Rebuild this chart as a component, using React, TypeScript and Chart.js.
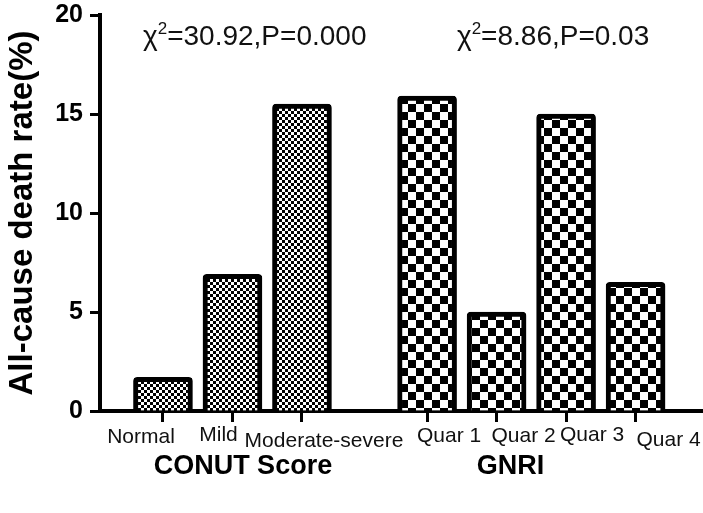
import React, { useEffect, useRef } from "react";
import { Chart, registerables } from "chart.js";

Chart.register(...registerables);

// ---- data ----
const categories = ["Normal", "Mild", "Moderate-severe", "Quar 1", "Quar 2", "Quar 3", "Quar 4"];
const positions = [1, 2, 3, 4.8, 5.8, 6.8, 7.8];
const values = [1.7, 6.9, 15.5, 15.9, 5.0, 15.0, 6.5];
const groups = ["CONUT", "CONUT", "CONUT", "GNRI", "GNRI", "GNRI", "GNRI"];
const groupTitles = ["CONUT Score", "GNRI"];
const groupCenters = [2.15, 6.0];
const chiTexts = ["=30.92,P=0.000", "=8.86,P=0.03"];
const chiStarts = [0.713, 5.23];
const yTickStep = 5;
const yMax = 20;

// label fine-tuning (pixels)
const labelDx = [-22, -14, 22, 22, 27, 26, 33];
const labelDy = [26, 24, 30, 25, 25, 24, 29];

const FONT = "'Liberation Sans', Arial, Helvetica, sans-serif";

function checker(ctx: CanvasRenderingContext2D, size: number) {
  const c = document.createElement("canvas");
  c.width = size * 2;
  c.height = size * 2;
  const g = c.getContext("2d")!;
  g.fillStyle = "#fff";
  g.fillRect(0, 0, size * 2, size * 2);
  g.fillStyle = "#000";
  g.fillRect(0, 0, size, size);
  g.fillRect(size, size, size, size);
  return ctx.createPattern(c, "repeat")!;
}

const textPlugin = {
  id: "texts",
  afterDraw(chart: any) {
    const ctx: CanvasRenderingContext2D = chart.ctx;
    const xs = chart.scales.x;
    const bottom = chart.chartArea.bottom;
    ctx.save();
    // category labels
    ctx.fillStyle = "#111";
    ctx.textAlign = "center";
    ctx.textBaseline = "middle";
    ctx.font = `21px ${FONT}`;
    categories.forEach((c, i) => {
      ctx.fillText(c, xs.getPixelForValue(positions[i]) + labelDx[i], bottom + labelDy[i]);
    });
    // group titles
    ctx.fillStyle = "#000";
    ctx.font = `bold 27px ${FONT}`;
    groupTitles.forEach((t, i) => {
      ctx.fillText(t, xs.getPixelForValue(groupCenters[i]), bottom + 56);
    });
    // chi-square annotations
    ctx.fillStyle = "#111";
    ctx.textAlign = "left";
    ctx.textBaseline = "alphabetic";
    const baseY = chart.chartArea.top + 30;
    chiTexts.forEach((t, i) => {
      let x = xs.getPixelForValue(chiStarts[i]);
      ctx.font = `28px ${FONT}`;
      ctx.fillText("χ", x, baseY);
      x += ctx.measureText("χ").width;
      ctx.font = `17px ${FONT}`;
      ctx.fillText("2", x, baseY - 11);
      x += ctx.measureText("2").width;
      ctx.font = `28px ${FONT}`;
      ctx.fillText(t, x, baseY);
    });
    ctx.restore();
  },
};

export default function App() {
  const ref = useRef<HTMLCanvasElement | null>(null);
  useEffect(() => {
    const canvas = ref.current!;
    const ctx = canvas.getContext("2d")!;
    const fine = checker(ctx, 3);
    const coarse = checker(ctx, 8);
    const chart = new Chart(canvas, {
      type: "bar",
      data: {
        datasets: [
          {
            data: positions.map((x, i) => ({ x, y: values[i] })),
            backgroundColor: groups.map((g) => (g === "CONUT" ? fine : coarse)),
            borderColor: "#000",
            borderWidth: 5,
            borderRadius: 4,
            borderSkipped: "start",
            barThickness: 59,
          } as any,
        ],
      },
      options: {
        responsive: false,
        animation: false,
        layout: { padding: { top: 15, left: 0, right: 0, bottom: 0 } },
        plugins: { legend: { display: false }, tooltip: { enabled: false } },
        scales: {
          x: {
            type: "linear",
            offset: false,
            min: 0.094,
            max: 8.77,
            afterBuildTicks: (s: any) => {
              s.ticks = positions.map((v) => ({ value: v }));
            },
            afterFit: (s: any) => {
              s.height = 102;
              s.paddingLeft = 0;
              s.paddingRight = 0;
            },
            ticks: { display: false },
            grid: {
              display: true,
              offset: false,
              drawOnChartArea: false,
              drawTicks: true,
              tickLength: 11,
              tickWidth: 3,
              tickColor: "#000",
              color: "#000",
            },
            border: { display: true, width: 4, color: "#000" },
          },
          y: {
            min: 0,
            max: yMax,
            ticks: {
              stepSize: yTickStep,
              font: { family: FONT, size: 25, weight: "bold" },
              color: "#000",
              padding: 7,
            },
            afterFit: (s: any) => {
              s.width = 100;
              s.paddingTop = 0;
              s.paddingBottom = 0;
            },
            grid: {
              drawOnChartArea: false,
              drawTicks: true,
              tickLength: 10,
              tickWidth: 3,
              tickColor: "#000",
            },
            border: { display: true, width: 4, color: "#000" },
            title: {
              display: true,
              text: "All-cause death rate(%)",
              font: { family: FONT, size: 33, weight: "bold" },
              color: "#000",
              padding: { top: 3, bottom: 0 },
            },
          },
        } as any,
      },
      plugins: [textPlugin],
    });
    return () => chart.destroy();
  }, []);
  return (
    <div style={{ position: "fixed", left: 0, top: 0, width: 703, height: 513, background: "#fff" }}>
      <canvas ref={ref} width={703} height={513} style={{ display: "block" }} />
    </div>
  );
}
